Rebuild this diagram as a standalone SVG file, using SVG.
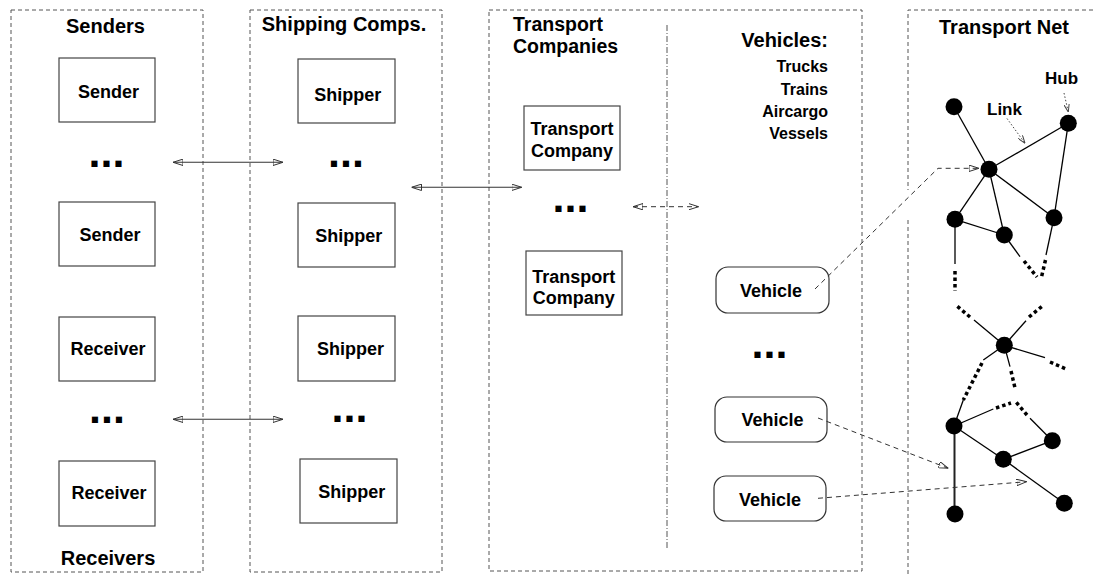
<svg xmlns="http://www.w3.org/2000/svg" width="1093" height="574" viewBox="0 0 1093 574">
<style>
text{font-family:"Liberation Sans",Arial,Helvetica,sans-serif;font-weight:bold;fill:#000}
.title{font-size:20px}
.lbl{font-size:18px;text-anchor:middle}
.sub{font-size:16px;text-anchor:end}
.dots{font-size:43px;text-anchor:middle}
.panel{fill:none;stroke:#555;stroke-width:1;stroke-dasharray:4 3}
.box{fill:#fff;stroke:#444;stroke-width:1.2}
.veh{fill:#fff;stroke:#333;stroke-width:1.2}
.conn{fill:none;stroke:#333;stroke-width:1.1}
.dash{fill:none;stroke:#333;stroke-width:1;stroke-dasharray:5 4}
.dot{fill:none;stroke:#444;stroke-width:1;stroke-dasharray:1.5 2}
.edge{stroke:#000;stroke-width:1.3;fill:none}
.ddot{stroke:#000;stroke-width:3.5;stroke-dasharray:3.5 3;fill:none}
.hub{fill:#000}
</style>
<defs>
<marker id="ah" viewBox="0 0 10 7" refX="10" refY="3.5" markerWidth="10" markerHeight="7" markerUnits="userSpaceOnUse" orient="auto-start-reverse">
<path d="M0,0.3 L10,3.5 L0,6.7 z" fill="none" stroke="#333" stroke-width="1"/>
</marker>
<marker id="ahs" viewBox="0 0 8 6" refX="8" refY="3" markerWidth="8" markerHeight="6" markerUnits="userSpaceOnUse" orient="auto">
<path d="M0,0.3 L8,3 L0,5.7" fill="none" stroke="#444" stroke-width="1"/>
</marker>
</defs>

<g id="panels">
<rect id="senders-panel" class="panel" x="11" y="10" width="192" height="562"/>
<rect id="shipping-panel" class="panel" x="250" y="10" width="192" height="562"/>
<rect id="transport-panel" class="panel" x="489" y="10" width="373" height="561"/>
<path id="net-panel" class="panel" d="M1093,10 H908 V190 M908,220 V574"/>
<line id="divider" x1="667" y1="25" x2="667" y2="550" stroke="#555" stroke-width="1" stroke-dasharray="6 2 1 2"/>
</g>

<g id="titles">
<text class="title" x="105.5" y="33" text-anchor="middle">Senders</text>
<text class="title" x="344" y="31" text-anchor="middle">Shipping Comps.</text>
<text class="title" x="513" y="31" style="font-size:19.5px">Transport</text>
<text class="title" x="513" y="53" style="font-size:19.5px">Companies</text>
<text class="title" x="1004" y="34" text-anchor="middle">Transport Net</text>
<text class="title" x="108" y="565" text-anchor="middle">Receivers</text>
<text class="title" x="828" y="47" text-anchor="end">Vehicles:</text>
<text class="sub" x="828" y="72">Trucks</text>
<text class="sub" x="828" y="94.5">Trains</text>
<text class="sub" x="828" y="116.5">Aircargo</text>
<text class="sub" x="828" y="139">Vessels</text>
</g>

<g id="ellipses">
<text class="dots" x="106.5" y="167">...</text>
<text class="dots" x="107" y="423">...</text>
<text class="dots" x="346" y="167">...</text>
<text class="dots" x="349.5" y="422">...</text>
<text class="dots" x="570.5" y="212">...</text>
<text class="dots" x="769.5" y="358">...</text>
</g>

<g id="sender1"><rect class="box" x="59" y="58" width="96" height="64"/><text class="lbl" x="108.5" y="98">Sender</text></g>
<g id="sender2"><rect class="box" x="59" y="202" width="96" height="64"/><text class="lbl" x="110" y="241">Sender</text></g>
<g id="receiver1"><rect class="box" x="59" y="317" width="96" height="64"/><text class="lbl" x="108" y="355">Receiver</text></g>
<g id="receiver2"><rect class="box" x="59" y="461" width="96" height="65"/><text class="lbl" x="109" y="499">Receiver</text></g>

<g id="shipper1"><rect class="box" x="298" y="59" width="97" height="64"/><text class="lbl" x="347.7" y="101">Shipper</text></g>
<g id="shipper2"><rect class="box" x="298" y="203" width="97" height="64"/><text class="lbl" x="348.8" y="241.5">Shipper</text></g>
<g id="shipper3"><rect class="box" x="298" y="316" width="97" height="65"/><text class="lbl" x="350.5" y="355">Shipper</text></g>
<g id="shipper4"><rect class="box" x="300" y="459" width="97" height="64"/><text class="lbl" x="351.7" y="498">Shipper</text></g>

<g id="tc1"><rect class="box" x="524" y="106" width="96" height="64"/><text class="lbl" x="572" y="135">Transport</text><text class="lbl" x="572" y="157">Company</text></g>
<g id="tc2"><rect class="box" x="526" y="251" width="96" height="64"/><text class="lbl" x="573.7" y="283">Transport</text><text class="lbl" x="573.7" y="304">Company</text></g>

<g id="vehicle1"><rect class="veh" x="716" y="267" width="113" height="46" rx="12"/><text class="lbl" x="771" y="297">Vehicle</text></g>
<g id="vehicle2"><rect class="veh" x="715" y="397" width="112" height="45" rx="12"/><text class="lbl" x="772.5" y="426">Vehicle</text></g>
<g id="vehicle3"><rect class="veh" x="714" y="476" width="112" height="45" rx="12"/><text class="lbl" x="770" y="506">Vehicle</text></g>

<g id="network">
<g id="net-edges">
<line class="edge" x1="954" y1="106.7" x2="989" y2="169.3"/>
<line class="edge" x1="989" y1="169.3" x2="1068.3" y2="123.3"/>
<line class="edge" x1="1068.3" y1="123.3" x2="1054" y2="217.7"/>
<line class="edge" x1="989" y1="169.3" x2="955" y2="219.3"/>
<line class="edge" x1="989" y1="169.3" x2="1004.3" y2="235"/>
<line class="edge" x1="989" y1="169.3" x2="1054" y2="217.7"/>
<line class="edge" x1="955" y1="219.3" x2="1004.3" y2="235"/>
<line class="edge" x1="955" y1="219.3" x2="955" y2="264"/>
<line class="ddot" x1="955" y1="271" x2="955" y2="291"/>
<line class="edge" x1="1004.3" y1="235" x2="1020" y2="256.7"/>
<line class="ddot" x1="1024" y1="261" x2="1037" y2="277"/>
<line class="edge" x1="1054" y1="217.7" x2="1046" y2="255"/>
<line class="ddot" x1="1045.5" y1="260" x2="1041.5" y2="277"/>
<line class="edge" x1="1004.3" y1="345.3" x2="974" y2="320"/>
<line class="ddot" x1="970" y1="317" x2="957" y2="306"/>
<line class="edge" x1="1004.3" y1="345.3" x2="1026" y2="320.7"/>
<line class="ddot" x1="1029" y1="317" x2="1043" y2="305.5"/>
<line class="edge" x1="1004.3" y1="345.3" x2="1045" y2="357.7"/>
<line class="ddot" x1="1050" y1="362" x2="1066" y2="369"/>
<line class="edge" x1="1004.3" y1="345.3" x2="983.3" y2="360"/>
<line class="ddot" x1="982" y1="363" x2="963.3" y2="400"/>
<line class="edge" x1="963.3" y1="400" x2="954" y2="426"/>
<line class="edge" x1="1004.3" y1="345.3" x2="1010" y2="366.7"/>
<line class="ddot" x1="1011" y1="371" x2="1015.5" y2="390"/>
<line class="edge" x1="954" y1="426" x2="993.3" y2="409"/>
<line class="ddot" x1="996" y1="408" x2="1011" y2="403"/>
<line class="edge" x1="1052.3" y1="440.7" x2="1030" y2="418.3"/>
<line class="ddot" x1="1027" y1="415" x2="1016" y2="402"/>
<line class="edge" x1="954" y1="426" x2="1003.3" y2="459.3"/>
<line class="edge" x1="1003.3" y1="459.3" x2="1052.3" y2="440.7"/>
<line class="edge" x1="1003.3" y1="459.3" x2="1064.3" y2="503.3"/>
<line x1="954.5" y1="426" x2="954.5" y2="514" stroke="#222" stroke-width="2"/>
</g>
<g id="hubs">
<circle id="hubA" class="hub" cx="954" cy="106.7" r="8.5"/>
<circle id="hubB" class="hub" cx="1068.3" cy="123.3" r="8.5"/>
<circle id="hubC" class="hub" cx="989" cy="169.3" r="8.5"/>
<circle id="hubD" class="hub" cx="955" cy="219.3" r="8.5"/>
<circle id="hubE" class="hub" cx="1004.3" cy="235" r="8.5"/>
<circle id="hubF" class="hub" cx="1054" cy="217.7" r="8.5"/>
<circle id="hubG" class="hub" cx="1004.3" cy="345.3" r="8.5"/>
<circle id="hubH" class="hub" cx="954" cy="426" r="8.5"/>
<circle id="hubI" class="hub" cx="1052.3" cy="440.7" r="8.5"/>
<circle id="hubJ" class="hub" cx="1003.3" cy="459.3" r="8.5"/>
<circle id="hubK" class="hub" cx="955" cy="514" r="8.5"/>
<circle id="hubL" class="hub" cx="1064.3" cy="503.3" r="8.5"/>
</g>
<text x="987" y="115" style="font-size:17px">Link</text>
<text x="1045" y="84" style="font-size:17px">Hub</text>
</g>

<g id="connectors">
<line class="conn" x1="173" y1="162.3" x2="283" y2="162.3" marker-start="url(#ah)" marker-end="url(#ah)"/>
<line class="conn" x1="173" y1="419.3" x2="283" y2="419.3" marker-start="url(#ah)" marker-end="url(#ah)"/>
<line class="conn" x1="411.5" y1="187.3" x2="521.7" y2="187.3" marker-start="url(#ah)" marker-end="url(#ah)"/>
<line class="dash" x1="633" y1="206.7" x2="698.5" y2="206.7" marker-start="url(#ah)" marker-end="url(#ah)"/>
<polyline class="dash" points="815,289 938,168.3 979,168.3" marker-end="url(#ah)"/>
<line class="dash" x1="818" y1="418" x2="948.3" y2="468.3" marker-end="url(#ah)"/>
<line class="dash" x1="818" y1="498.3" x2="1026.7" y2="481.7" marker-end="url(#ah)"/>
<line class="dot" x1="1007" y1="118.5" x2="1025" y2="143.3" marker-end="url(#ahs)"/>
<line class="dot" x1="1064" y1="93" x2="1068.3" y2="112" marker-end="url(#ahs)"/>
</g>
</svg>
